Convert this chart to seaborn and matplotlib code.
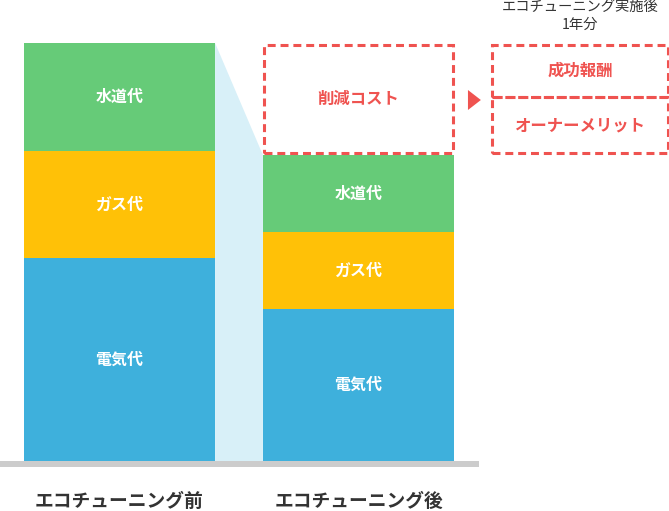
import matplotlib
matplotlib.use("Agg")
import matplotlib.pyplot as plt
import seaborn as sns
import pandas as pd
from matplotlib.patches import Rectangle, Polygon

# ---- data (pixel-scale units above the baseline) ----
categories = ["エコチューニング前", "エコチューニング後"]
electric = [203, 152]
gas = [107, 77]
water = [108, 77]
segment_labels = ["電気代", "ガス代", "水道代"]
saving_label = "削減コスト"
owner_merit = 58
success_fee = 54
right_labels = ["成功報酬", "オーナーメリット"]
note_lines = ["エコチューニング実施後", "1年分"]

c_blue = "#3eb0dc"
c_yellow = "#ffc107"
c_green = "#66cb78"
c_light = "#d8f0f8"
c_red = "#ef5350"
c_gray = "#cccccc"

sns.set_theme(style="white")
plt.rcParams["font.family"] = ["Noto Sans CJK JP", "DejaVu Sans"]

fig = plt.figure(figsize=(6.69, 5.11), dpi=100)
ax = fig.add_axes([0, 0, 1, 1])

totals = [e + g + w for e, g, w in zip(electric, gas, water)]
eg = [e + g for e, g in zip(electric, gas)]

df = pd.DataFrame({"cat": categories, "total": totals, "eg": eg, "e": electric})

# connecting light blue band
ax.add_patch(Polygon([(0.4, 0), (0.4, totals[0]), (0.6, totals[1]), (0.6, 0)],
                     closed=True, facecolor=c_light, edgecolor="none", zorder=0))

for col, color in [("total", c_green), ("eg", c_yellow), ("e", c_blue)]:
    sns.barplot(data=df, x="cat", y=col, order=categories, color=color,
                saturation=1, width=0.8, linewidth=0, ax=ax, zorder=2)

# segment labels
for i in range(2):
    mids = [electric[i] / 2, electric[i] + gas[i] / 2, electric[i] + gas[i] + water[i] / 2]
    for lab, m in zip(segment_labels, mids):
        ax.text(i, m, lab, color="white", fontsize=11.5, fontweight="bold",
                ha="center", va="center", zorder=5)

saving = totals[0] - totals[1]
dash = dict(linestyle=(0, (2.6, 1.6)), linewidth=2.2, edgecolor=c_red, facecolor="none", zorder=6)
ax.add_patch(Rectangle((0.604, totals[1] + 2), 0.792, saving - 4, **dash))
ax.text(1, totals[1] + saving / 2, saving_label, color=c_red, fontsize=11.8,
        fontweight="bold", ha="center", va="center")

# arrow
ax.add_patch(Polygon([(1.458, totals[1] + 45), (1.458, totals[1] + 65), (1.512, totals[1] + 55)],
                     closed=True, facecolor=c_red, edgecolor="none"))

# right-side boxes
bx0, bx1 = 1.559, 2.293
ax.add_patch(Rectangle((bx0, totals[1] + 2), bx1 - bx0, owner_merit - 2, **dash))
ax.add_patch(Rectangle((bx0, totals[1] + owner_merit), bx1 - bx0, success_fee - 2, **dash))
cx = (bx0 + bx1) / 2
ax.text(cx, totals[1] + owner_merit / 2 + 1, right_labels[1], color=c_red, fontsize=11.8,
        fontweight="bold", ha="center", va="center")
ax.text(cx, totals[1] + owner_merit + success_fee / 2 - 1, right_labels[0], color=c_red,
        fontsize=11.8, fontweight="bold", ha="center", va="center")
for k, line in enumerate(note_lines):
    ax.text(cx, 454 - 18 * k, line, color="#333333", fontsize=10.3,
            ha="center", va="center")

# baseline
ax.add_patch(Rectangle((-0.5, -6), 2.004, 6, facecolor=c_gray, edgecolor="none", zorder=3))

# category labels
for i, c in enumerate(categories):
    ax.text(i, -40, c, color="#333333", fontsize=13.5, fontweight="bold",
            ha="center", va="center")

ax.set_xlim(-119.5 / 239, (669 - 119.5) / 239)
ax.set_ylim(-50, 461)
ax.axis("off")

fig.savefig("out.png", dpi=100, facecolor="white")
